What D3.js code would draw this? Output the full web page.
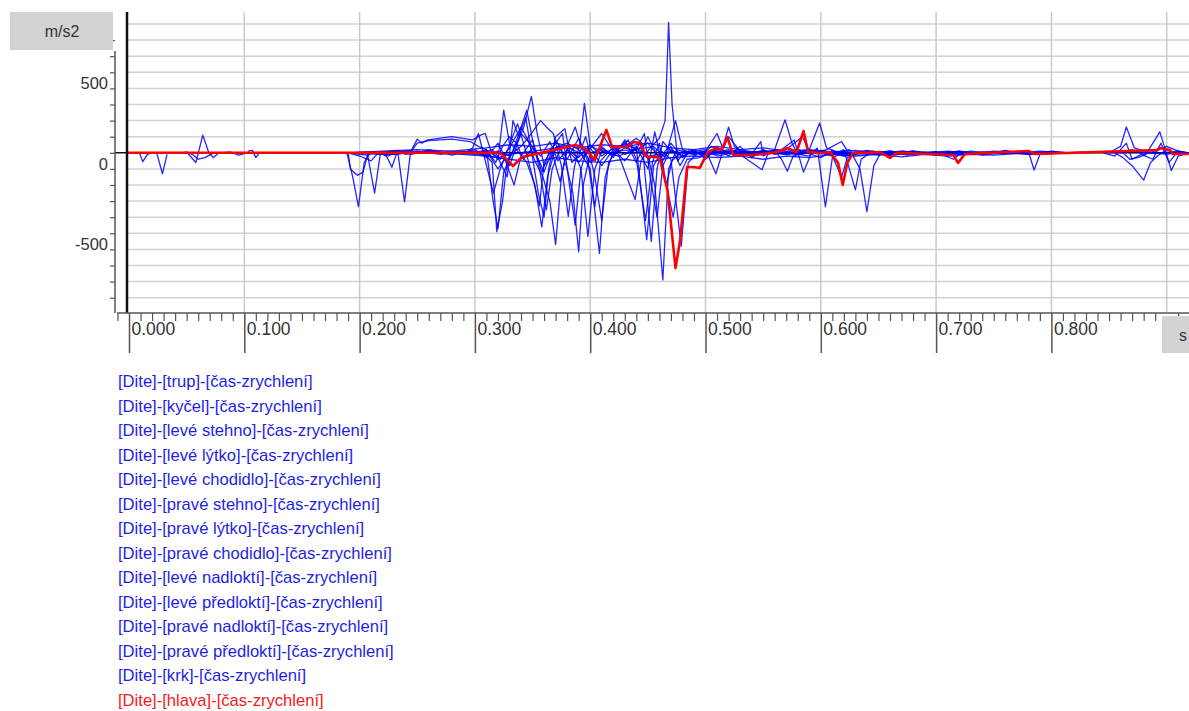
<!DOCTYPE html>
<html>
<head>
<meta charset="utf-8">
<script src="https://cdn.jsdelivr.net/npm/d3@7"></script>
<style>
  html, body { margin: 0; padding: 0; background: #fff; }
  svg { display: block; font-family: Arial, "Liberation Sans", sans-serif; }
</style>
</head>
<body>
<svg id="chart" width="1189" height="711"></svg>
<script>
// ---------------- DATA ----------------
const yUnit = "m/s2";
const xUnit = "s";
const xTickValues = [0, 0.1, 0.2, 0.3, 0.4, 0.5, 0.6, 0.7, 0.8];
const xTickLabels = ["0.000", "0.100", "0.200", "0.300", "0.400", "0.500", "0.600", "0.700", "0.800"];
const yTickValues = [500, 0, -500];
const yTickLabels = ["500", "0", "-500"];

const seriesNames = [
  "[Dite]-[trup]-[čas-zrychlení]",
  "[Dite]-[kyčel]-[čas-zrychlení]",
  "[Dite]-[levé stehno]-[čas-zrychlení]",
  "[Dite]-[levé lýtko]-[čas-zrychlení]",
  "[Dite]-[levé chodidlo]-[čas-zrychlení]",
  "[Dite]-[pravé stehno]-[čas-zrychlení]",
  "[Dite]-[pravé lýtko]-[čas-zrychlení]",
  "[Dite]-[pravé chodidlo]-[čas-zrychlení]",
  "[Dite]-[levé nadloktí]-[čas-zrychlení]",
  "[Dite]-[levé předloktí]-[čas-zrychlení]",
  "[Dite]-[pravé nadloktí]-[čas-zrychlení]",
  "[Dite]-[pravé předloktí]-[čas-zrychlení]",
  "[Dite]-[krk]-[čas-zrychlení]",
  "[Dite]-[hlava]-[čas-zrychlení]"
];
const seriesColors = ["blue","blue","blue","blue","blue","blue","blue","blue","blue","blue","blue","blue","blue","red"];

// each series: [time s, acceleration m/s2]; null = gap in the record
const trup = [[0.009,0],[0.012,-55],[0.016,-10],[0.02,0],null,
  [0.024,0],[0.029,-130],[0.033,-10],null,
  [0.189,0],[0.194,-150],[0.199,-335],[0.204,-60],[0.209,0],[0.222,5],[0.233,10],[0.239,-305],[0.244,-5],[0.26,10],[0.28,-5],[0.3,10],[0.31,-20],[0.315,-60],[0.319,-490],[0.324,-300],[0.328,-50],[0.335,40],[0.342,150],[0.349,350],[0.354,120],[0.36,-80],[0.366,-30],[0.373,50],[0.38,-100],[0.385,-250],[0.390,-615],[0.394,-200],[0.4,0],[0.41,20],[0.42,-10],[0.43,30],[0.44,10],[0.45,-20],[0.456,-200],[0.463,-790],[0.468,-100],[0.475,20],[0.49,-10],[0.5,10],[0.51,-20],[0.53,10],[0.55,-15],[0.56,20],[0.569,205],[0.575,60],[0.58,-10],[0.6,10],[0.62,-5],[0.64,10],[0.66,-10],[0.68,5],[0.7,-5],null,
  [0.85,0],[0.86,40],[0.865,160],[0.872,30],[0.88,10],[0.89,0],[0.9,-10],[0.91,5],[0.919,0]];
const kycel = [[0.045,0],[0.05,5],[0.058,-60],[0.064,110],[0.069,5],[0.073,-30],[0.078,0],null,
  [0.19,5],[0.192,-100],[0.198,-140],[0.203,-120],[0.207,-10],[0.215,0],[0.225,-20],[0.232,5],[0.245,15],[0.25,85],[0.254,60],[0.259,80],[0.28,100],[0.298,80],[0.305,110],[0.309,120],[0.314,10],[0.32,-40],[0.325,265],[0.33,60],[0.336,20],[0.345,-60],[0.352,-200],[0.358,-460],[0.363,-150],[0.37,30],[0.38,60],[0.39,20],[0.4,-100],[0.408,-625],[0.413,-150],[0.42,10],[0.44,20],[0.455,40],[0.465,-30],[0.474,200],[0.48,20],[0.49,-5],[0.51,10],[0.53,-10],[0.55,5],[0.57,-10],[0.59,20],[0.599,185],[0.605,30],[0.62,-10],[0.64,5],[0.66,-10],[0.67,10],[0.69,-5],[0.7,5],null,
  [0.855,0],[0.862,-30],[0.87,-80],[0.88,-170],[0.886,-60],[0.892,-20],[0.9,20],[0.91,-10],[0.919,0]];
const leveStehno = [[0.103,10],[0.107,15],[0.11,-30],[0.113,0],null,
  [0.19,0],[0.2,-10],[0.207,-15],[0.213,-250],[0.218,-5],[0.225,5],[0.245,10],[0.25,60],[0.26,75],[0.28,85],[0.296,70],[0.303,40],[0.31,20],[0.316,-310],[0.32,-470],[0.325,-120],[0.333,10],[0.345,265],[0.35,80],[0.356,-100],[0.362,-355],[0.367,-100],[0.375,40],[0.385,20],[0.392,-100],[0.398,-520],[0.404,-100],[0.41,10],[0.425,-20],[0.44,30],[0.449,-540],[0.455,-80],[0.462,10],[0.47,-40],[0.479,-580],[0.485,-60],[0.495,10],[0.51,-10],[0.53,20],[0.55,-10],[0.57,5],[0.59,-20],[0.597,30],[0.604,-335],[0.61,-30],[0.62,5],[0.64,-10],[0.66,10],[0.68,-10],[0.7,0],[0.72,-10],[0.74,5],[0.76,-5],[0.78,10],[0.785,-107],[0.79,-10],[0.8,5],[0.81,0]];
const leveLytko = [[0.052,0],[0.056,-15],[0.06,-40],[0.066,-30],[0.072,-5],[0.08,0],[0.088,5],[0.095,-15],[0.1,-5],null,
  [0.22,0],[0.224,-30],[0.228,-90],[0.233,15],[0.24,-10],[0.25,5],[0.27,-5],[0.29,10],[0.305,-5],[0.315,20],[0.322,-40],[0.33,30],[0.34,160],[0.346,80],[0.352,-50],[0.359,-150],[0.365,-300],[0.37,-570],[0.375,-150],[0.381,60],[0.387,160],[0.392,40],[0.398,-50],[0.404,-335],[0.409,-50],[0.418,20],[0.43,40],[0.44,90],[0.445,60],[0.453,-550],[0.458,-100],[0.463,70],[0.47,10],[0.49,-10],[0.5,10],[0.51,120],[0.515,30],[0.52,160],[0.525,40],[0.535,-10],[0.55,15],[0.57,-10],[0.59,5],[0.61,-15],[0.62,20],[0.63,-230],[0.635,-40],[0.645,10],[0.66,-5],[0.68,10],[0.7,-10],[0.72,5],[0.74,-5],[0.76,10],[0.78,-5],[0.8,5],null,
  [0.862,0],[0.868,-40],[0.875,-30],[0.882,-10],[0.894,130],[0.898,40],[0.904,-110],[0.91,-20],[0.919,0]];
const leveChodidlo = [[0.19,0],[0.21,5],[0.23,-10],[0.25,10],[0.27,-10],[0.29,5],[0.31,-10],[0.32,10],[0.33,-20],[0.34,40],[0.347,100],[0.357,200],[0.362,160],[0.368,120],[0.375,-80],[0.381,-395],[0.386,-100],[0.391,60],[0.395,307],[0.4,40],[0.41,10],[0.425,-20],[0.439,-290],[0.444,-50],[0.452,30],[0.46,90],[0.465,200],[0.468,810],[0.471,300],[0.476,-50],[0.482,10],[0.5,-15],[0.52,10],[0.54,-10],[0.548,70],[0.55,-20],[0.56,15],[0.566,-40],[0.571,-115],[0.576,-20],[0.59,10],[0.61,-10],[0.625,20],[0.634,-100],[0.64,-366],[0.646,-80],[0.652,0],[0.66,10],[0.675,-15],[0.69,5],[0.71,-10],[0.73,10],[0.75,-5]];
const praveStehno = [[0.3,0],[0.31,20],[0.318,-60],[0.324,40],[0.33,100],[0.336,60],[0.342,-40],[0.35,30],[0.357,-20],[0.365,70],[0.372,-50],[0.38,20],[0.39,-30],[0.4,50],[0.41,-20],[0.42,30],[0.43,-10],[0.44,20],[0.45,60],[0.46,-30],[0.47,10],[0.48,-20],[0.49,10],[0.5,20],[0.509,-130],[0.515,10],[0.53,-10],[0.549,-105],[0.555,10],[0.566,20],[0.577,80],[0.585,-120],[0.592,0],[0.605,20],[0.618,70],[0.625,-10],[0.64,15],[0.66,-5],[0.68,10],[0.7,-5],[0.72,10],[0.74,-15],[0.76,5],[0.78,-10],[0.8,10],[0.82,-5],null,
  [0.86,0],[0.87,20],[0.88,-10],[0.89,10],[0.9,40],[0.91,10],[0.919,0]];
const praveLytko = [[0.29,0],[0.3,-10],[0.31,15],[0.32,-30],[0.328,-150],[0.333,200],[0.338,100],[0.344,220],[0.35,-30],[0.355,-250],[0.36,-400],[0.364,-100],[0.37,100],[0.378,150],[0.384,-60],[0.39,-20],[0.396,100],[0.402,-50],[0.41,30],[0.42,-10],[0.43,60],[0.44,20],[0.447,120],[0.452,-150],[0.458,-400],[0.463,-80],[0.47,20],[0.48,-20],[0.49,10],[0.5,-10],[0.52,20],[0.54,-20],[0.56,10],[0.58,-10],[0.6,15],[0.62,-10],[0.64,5],[0.66,-10],[0.68,5],[0.7,-10]];
const praveChodidlo = [[0.27,0],[0.28,10],[0.29,-10],[0.298,30],[0.303,120],[0.308,-20],[0.316,-250],[0.322,-100],[0.33,50],[0.337,180],[0.343,40],[0.35,-150],[0.356,-330],[0.36,-60],[0.368,40],[0.376,120],[0.382,-200],[0.387,-450],[0.392,-100],[0.398,40],[0.404,-150],[0.41,-420],[0.416,-60],[0.424,30],[0.433,80],[0.44,-40],[0.448,-420],[0.454,-60],[0.46,60],[0.466,-200],[0.471,-50],[0.48,10],[0.5,-5],[0.52,10],[0.54,-5],[0.56,10],[0.58,-10],[0.6,10],[0.62,-20],[0.64,0],[0.66,10],[0.68,-5],[0.7,5],[0.72,-5]];
const leveNadlokti = [[0.19,0],[0.2,-20],[0.21,-50],[0.215,-10],[0.23,15],[0.245,-10],[0.26,20],[0.28,-15],[0.3,20],[0.31,-30],[0.32,60],[0.33,-80],[0.34,120],[0.35,40],[0.36,-120],[0.37,80],[0.38,-40],[0.39,90],[0.4,-60],[0.41,40],[0.42,-30],[0.43,80],[0.44,-60],[0.45,100],[0.46,-40],[0.47,60],[0.48,-30],[0.49,20],[0.5,-40],[0.51,30],[0.52,-20],[0.53,40],[0.54,-30],[0.55,20],[0.56,-10],[0.58,20],[0.6,-30],[0.61,15],[0.62,-20],[0.64,10],[0.66,-20],[0.68,10],[0.7,-15],[0.72,10],[0.74,-10],[0.76,15],[0.78,-10],[0.8,5],null,
  [0.845,0],[0.855,-20],[0.865,60],[0.87,-40],[0.878,-10],[0.888,-40],[0.895,60],[0.902,-60],[0.91,10],[0.919,-5]];
const levePredlokti = [[0.19,0],[0.22,-10],[0.25,5],[0.28,-5],[0.31,-20],[0.33,-40],[0.35,-60],[0.37,-30],[0.39,-50],[0.41,-60],[0.43,-40],[0.45,-60],[0.47,-30],[0.49,-20],[0.51,-30],[0.53,-20],[0.55,-40],[0.57,-20],[0.59,-30],[0.61,-10],[0.63,-20],[0.65,-10],[0.67,-25],[0.69,-10],[0.71,-20],[0.73,-10],[0.75,-15],[0.77,-5],[0.79,-10],[0.81,0]];
const praveNadlokti = [[0.19,0],[0.22,10],[0.25,20],[0.28,10],[0.31,30],[0.33,50],[0.35,40],[0.37,60],[0.39,30],[0.41,50],[0.43,40],[0.45,60],[0.47,30],[0.49,20],[0.51,40],[0.53,20],[0.55,30],[0.57,10],[0.59,20],[0.61,5],[0.63,15],[0.65,0],[0.67,10],[0.69,0],[0.71,10],[0.73,-5],[0.75,10],[0.77,0],[0.79,10],[0.81,0],[0.83,5],null,
  [0.85,0],[0.87,10],[0.89,-5],[0.91,10],[0.919,0]];
const pravePredlokti = [[0.2,0],[0.23,-10],[0.26,10],[0.29,-5],[0.31,10],[0.32,-100],[0.326,-40],[0.334,-200],[0.34,-20],[0.35,80],[0.358,-120],[0.366,30],[0.374,-180],[0.38,20],[0.39,-60],[0.4,30],[0.41,-80],[0.42,20],[0.43,-50],[0.44,40],[0.45,-100],[0.456,130],[0.462,-60],[0.47,40],[0.478,-80],[0.486,20],[0.5,-20],[0.51,20],[0.53,-10],[0.55,10],[0.57,-10],[0.59,15],[0.61,-10],[0.63,5],[0.65,-15],[0.67,5],[0.69,-10],[0.71,5],[0.73,-10],[0.75,0]];
const krk = [[0.19,0],[0.25,5],[0.3,-5],[0.32,-30],[0.33,-10],[0.36,20],[0.38,40],[0.395,-20],[0.41,120],[0.418,30],[0.43,50],[0.44,30],[0.45,-20],[0.46,-10],[0.466,-200],[0.472,-400],[0.477,-150],[0.484,-40],[0.495,-30],[0.505,40],[0.515,20],[0.52,100],[0.53,10],[0.55,5],[0.57,20],[0.584,100],[0.59,10],[0.6,5],[0.61,-20],[0.618,-150],[0.623,-30],[0.635,5],[0.65,0],[0.67,-10],[0.7,5],[0.715,-40],[0.72,-10],[0.75,5],[0.78,0],[0.8,5],[0.82,0]];
const hlava = [[-0.002,0],[0.322,0],[0.333,-82],[0.341,-26],[0.361,5],[0.387,48],[0.395,30],[0.404,-45],[0.414,142],[0.419,36],[0.424,36],[0.432,36],[0.438,67],[0.443,60],[0.449,-26],[0.46,-26],[0.467,-231],[0.474,-716],[0.478,-542],[0.484,-88],[0.489,-88],[0.495,-94],[0.502,5],[0.51,30],[0.514,17],[0.519,98],[0.524,-14],[0.539,-14],[0.55,-7],[0.562,5],[0.571,30],[0.579,5],[0.585,135],[0.589,5],[0.599,-3],[0.608,5],[0.615,-63],[0.619,-200],[0.623,-63],[0.628,0],[0.64,0],[0.651,5],[0.66,-32],[0.666,0],[0.715,-14],[0.719,-63],[0.725,-7],[0.78,11],[0.786,-7],[0.892,17],[0.894,30],[0.903,17],[0.905,-7],[0.919,-7]];

const seriesData = [trup, kycel, leveStehno, leveLytko, leveChodidlo, praveStehno, praveLytko,
  praveChodidlo, leveNadlokti, levePredlokti, praveNadlokti, pravePredlokti, krk, hlava];

// ---------------- LAYOUT ----------------
const svg = d3.select("#chart");
const plotLeft = 127, plotRight = 1189, plotTop = 12, plotBottom = 313;
const x = d3.scaleLinear().domain([0, 0.9]).range([129, 129 + 0.9 * 1153]);
const y = d3.scaleLinear().domain([0, 500]).range([152.8, 72.3]);

const colorMap = { blue: "#0000ff", red: "#ff0000" };
const textColorMap = { blue: "#1e1ee6", red: "#f41a1a" };

// horizontal grid
const yGridVals = d3.range(-900, 801, 100);
svg.append("g").selectAll("line").data(yGridVals).join("line")
  .attr("x1", plotLeft).attr("x2", plotRight)
  .attr("y1", d => y(d)).attr("y2", d => y(d))
  .attr("stroke", "#d2d2d2").attr("stroke-width", 1.5);

// vertical grid
const xGridVals = d3.range(1, 10).map(i => i / 10);
svg.append("g").selectAll("line").data(xGridVals).join("line")
  .attr("x1", d => x(d)).attr("x2", d => x(d))
  .attr("y1", plotTop).attr("y2", plotBottom)
  .attr("stroke", "#cacaca").attr("stroke-width", 1.5);

// zero line
svg.append("line").attr("x1", 115).attr("x2", plotRight)
  .attr("y1", y(0)).attr("y2", y(0)).attr("stroke", "#111").attr("stroke-width", 1.5);

// series
svg.append("defs").append("clipPath").attr("id", "plotclip").append("rect")
  .attr("x", plotLeft).attr("y", plotTop).attr("width", plotRight - plotLeft).attr("height", plotBottom - plotTop);

const line = d3.line().defined(d => d !== null).x(d => x(d[0])).y(d => y(d[1]));
const gSeries = svg.append("g").attr("clip-path", "url(#plotclip)");
seriesData.forEach((data, i) => {
  const isRed = seriesColors[i] === "red";
  gSeries.append("path")
    .attr("d", line(data))
    .attr("fill", "none")
    .attr("stroke", colorMap[seriesColors[i]])
    .attr("stroke-opacity", isRed ? 1 : 0.85)
    .attr("stroke-width", isRed ? 2.6 : 1.3)
    .attr("stroke-linejoin", "round");
});

// left black vertical line
svg.append("line").attr("x1", plotLeft).attr("x2", plotLeft)
  .attr("y1", plotTop).attr("y2", plotBottom).attr("stroke", "#111").attr("stroke-width", 2.5);

// y axis (gray line with ticks)
const yAxis = d3.axisLeft(y).tickValues(d3.range(-900, 701, 100)).tickSize(5).tickFormat("");
const gy = svg.append("g").attr("transform", "translate(115,0)").call(yAxis);
gy.select(".domain").remove();
gy.selectAll(".tick line").attr("stroke", "#555").attr("stroke-width", 1.2);
gy.append("line").attr("x1", 0).attr("x2", 0).attr("y1", 51).attr("y2", plotBottom)
  .attr("stroke", "#555").attr("stroke-width", 1.5);
svg.append("g").selectAll("text").data(yTickValues).join("text")
  .attr("x", 108).attr("y", d => y(d) + 17)
  .attr("text-anchor", "end").attr("font-size", 16.5).attr("fill", "#333")
  .text((d, i) => yTickLabels[i]);

// y unit box
svg.append("rect").attr("x", 10).attr("y", 12).attr("width", 103).attr("height", 38).attr("fill", "#d3d3d3");
svg.append("text").attr("x", 62).attr("y", 37).attr("text-anchor", "middle")
  .attr("font-size", 16).attr("fill", "#333").text(yUnit);

// x axis
const gx = svg.append("g").attr("transform", `translate(0,${plotBottom})`);
gx.append("line").attr("x1", 117).attr("x2", plotRight).attr("y1", 0).attr("y2", 0)
  .attr("stroke", "#555").attr("stroke-width", 1.5);
const minorVals = d3.range(-1, 92).map(i => i / 100).filter(v => Math.round(v * 100) % 10 !== 0);
const minorAxis = d3.axisBottom(x).tickValues(minorVals).tickSize(8).tickFormat("");
const gMinor = gx.append("g").call(minorAxis);
gMinor.select(".domain").remove();
gMinor.selectAll(".tick line").attr("stroke", "#555").attr("stroke-width", 1.2);
const majorAxis = d3.axisBottom(x).tickValues(xTickValues).tickSize(40)
  .tickFormat((d, i) => xTickLabels[i]);
const gMajor = gx.append("g").call(majorAxis);
gMajor.select(".domain").remove();
gMajor.selectAll(".tick line").attr("stroke", "#555").attr("stroke-width", 1.5);
gMajor.selectAll(".tick text")
  .attr("x", 2).attr("y", 22).attr("dy", 0)
  .attr("text-anchor", "start").attr("font-size", 17.5).attr("fill", "#333")
  .attr("font-family", "Arial, 'Liberation Sans', sans-serif");

// x unit box
svg.append("rect").attr("x", 1162).attr("y", 316).attr("width", 30).attr("height", 37).attr("fill", "#d3d3d3");
svg.append("text").attr("x", 1183).attr("y", 341).attr("text-anchor", "middle")
  .attr("font-size", 16).attr("fill", "#333").text(xUnit);

// legend
svg.append("g").selectAll("text").data(seriesNames).join("text")
  .attr("x", 118).attr("y", (d, i) => 387 + i * 24.5)
  .attr("font-size", 16.6)
  .attr("fill", (d, i) => textColorMap[seriesColors[i]])
  .text(d => d);
</script>
</body>
</html>
